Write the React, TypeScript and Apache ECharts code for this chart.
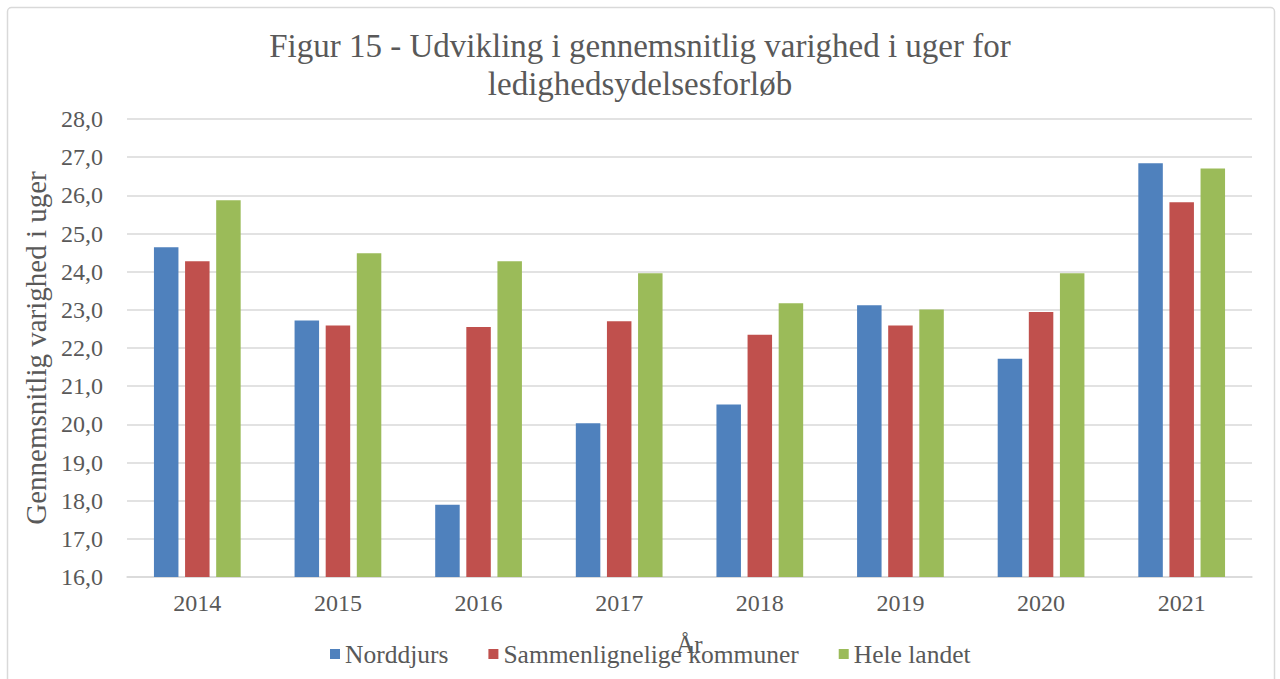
import React, { useEffect, useRef } from "react";
import * as echarts from "echarts";

const categories = ["2014", "2015", "2016", "2017", "2018", "2019", "2020", "2021"];
const norddjurs = [24.64, 22.72, 17.89, 20.03, 20.52, 23.12, 21.72, 26.84];
const sammenlignelige = [24.27, 22.59, 22.55, 22.7, 22.35, 22.59, 22.94, 25.82];
const heleLandet = [25.87, 24.48, 24.27, 23.96, 23.17, 23.01, 23.96, 26.7];
const seriesNames = ["Norddjurs", "Sammenlignelige kommuner", "Hele landet"];
const colors = ["#4F81BD", "#C0504D", "#9BBB59"];

const FONT = "Liberation Serif";
const TXT = "#595959";

export default function App() {
  const ref = useRef<HTMLDivElement>(null);
  useEffect(() => {
    if (!ref.current) return;
    const chart = echarts.init(ref.current, null, { renderer: "svg" });
    const data = [norddjurs, sammenlignelige, heleLandet];
    chart.setOption({
      animation: false,
      backgroundColor: "#ffffff",
      textStyle: { fontFamily: FONT, color: TXT },
      graphic: [
        {
          type: "rect",
          shape: { x: 7.5, y: 7.5, width: 1267, height: 700, r: 4 },
          style: { fill: "none", stroke: "#d9d9d9", lineWidth: 1.5 },
          silent: true,
        },
      ],
      title: {
        text: "Figur 15 - Udvikling i gennemsnitlig varighed i uger for\nledighedsydelsesforløb",
        left: "center",
        top: 22,
        textStyle: {
          fontFamily: FONT,
          fontSize: 33,
          fontWeight: "normal",
          color: TXT,
          lineHeight: 38,
        },
      },
      legend: {
        left: 325,
        top: 636,
        itemWidth: 10,
        itemHeight: 10,
        itemGap: 40,
        icon: "rect",
        textStyle: { fontFamily: FONT, fontSize: 25.5, color: TXT },
        data: seriesNames,
      },
      grid: { left: 127, right: 28, top: 119, bottom: 102, containLabel: false },
      xAxis: {
        type: "category",
        data: categories,
        name: "År",
        nameLocation: "middle",
        nameGap: 55,
        nameTextStyle: { fontFamily: FONT, fontSize: 25, color: TXT },
        axisLine: { lineStyle: { color: "#d9d9d9", width: 1.5 } },
        axisTick: { show: false },
        axisLabel: { fontFamily: FONT, fontSize: 24, color: TXT, margin: 14 },
      },
      yAxis: {
        type: "value",
        min: 16,
        max: 28,
        interval: 1,
        name: "Gennemsnitlig varighed i uger",
        nameLocation: "middle",
        nameGap: 72,
        nameTextStyle: { fontFamily: FONT, fontSize: 29, color: TXT },
        axisLine: { show: false },
        axisTick: { show: false },
        splitLine: { lineStyle: { color: "#d9d9d9", width: 1.5 } },
        axisLabel: {
          fontFamily: FONT,
          fontSize: 24,
          color: TXT,
          margin: 24,
          formatter: (v: number) => v.toFixed(1).replace(".", ","),
        },
      },
      series: seriesNames.map((name, i) => ({
        name,
        type: "bar",
        data: data[i],
        barWidth: 24.5,
        barGap: "27%",
        itemStyle: { color: colors[i] },
      })),
    });
    return () => chart.dispose();
  }, []);
  return (
    <div
      ref={ref}
      style={{ position: "fixed", left: 0, top: 0, width: 1280, height: 679 }}
    />
  );
}
